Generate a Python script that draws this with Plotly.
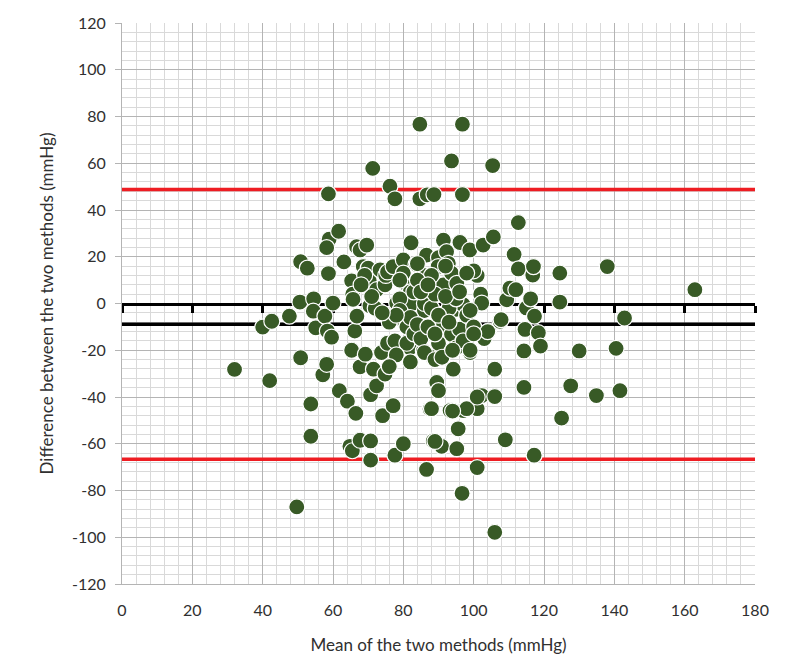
import plotly.graph_objects as go

# Bland-Altman data: mean of two methods (x) and difference (y), mmHg
mean_vals = [
    32, 40, 42, 42.6, 47.6, 49.7, 50.8, 50.8, 50.6, 52.7, 53.7, 53.7, 54.5, 54.4, 55.1,
    57.7, 57.1, 58.2, 58.4, 59.6, 58.7, 58.9, 58.2, 58.7, 60, 61.6, 61.8, 63.1, 64.1, 64.8,
    65.5, 65.3, 65.3, 65.6, 65.7, 66.2, 66.8, 66.5, 66.7, 67.7, 67.7, 67.7, 68.6, 69.6, 69.2,
    70, 70.3, 70.7, 70.7, 70.7, 71.3, 71.5, 70.5, 72.4, 72.4, 73, 73.4, 73.8, 74.1, 74.8,
    74.8, 75, 75.5, 75.5, 76.2, 77.6, 77.1, 77.1, 77.6, 77.6, 78.1, 80, 80, 80, 81.4,
    82, 81.9, 82.2, 82.8, 83.6, 84.7, 84.7, 85.7, 85.7, 86, 86.6, 86.8, 86.6, 87.6, 87.6,
    88.5, 88.5, 88.5, 88.7, 89.5, 90, 90, 89.9, 90.9, 91.4, 91.4, 91.4, 92.3, 92.8, 93.7,
    93.7, 93.7, 93.3, 94.2, 94.8, 95.2, 95.2, 95.6, 96.1, 96.8, 96.8, 96.7, 97, 97, 97,
    98.6, 98.9, 99, 101, 101, 101, 102, 102.3, 102.3, 102.7, 104.2, 105.6, 105.4, 106, 106,
    106, 107.5, 107.8, 109.4, 109, 110.3, 111.5, 112, 112.7, 112.7, 114.6, 114.3, 114.3, 115, 116.2,
    116.8, 117, 117.3, 117.2, 118.4, 119, 124.5, 124.5, 125, 127.6, 130, 134.9, 138, 140.5, 141.6,
    142.9, 162.9,
    80, 79, 79, 81, 81, 82, 83, 83, 84, 84, 85, 86, 86, 88, 88,
    89, 89, 90, 91, 92, 93, 95, 95, 96, 97, 98, 99, 100, 100, 103,
    104, 98, 88, 89, 94, 101, 76, 78, 79, 84, 87, 90, 92, 93, 96,
    98, 99, 100, 85, 87, 89, 94, 78, 82, 76, 72, 74, 71, 69, 68,
]
diff_vals = [
    -28.2, -10.1, -33, -7.6, -5.4, -87, 17.9, -23.2, 0.6, 15.1, -43, -56.8, 2, -3.3, -10.4,
    -5.4, -30.5, -26, -11.8, -14.4, 46.9, 27.5, 23.9, 12.8, 0.2, 30.9, -37.3, 17.8, -41.8, -61.1,
    -63, -20, 9.7, 4, 1.8, -11.8, -5.4, -47, 24.3, 22.9, -27.1, -58.5, 15.8, 25, -21.7,
    15.1, 9.7, -58.8, -67, -39, 57.8, -28.1, -1, 5.9, -35.2, -3, 14.4, -21, -48, 8,
    -30.2, 12, 13.5, -17, 50.2, 44.8, 15.8, -43.7, -16, -64.9, 0.2, -60, 18.6, -6.9, 7.3,
    5, -18.9, 26, 0.2, 16.8, 76.7, 44.8, 12, -20.3, -3, 20.7, 46.5, -71, 1.6, -45.1,
    -23.2, 5, -58.8, 46.6, -33.8, -37.3, 19.6, 15.8, -61.1, 27.1, 8, -9, 22.2, 17.2, 13,
    61, -13.2, -45.8, -28.1, -2.6, 8.6, -62.1, -53.6, 26.1, 76.7, 46.6, -81.2, -16, -0.5, -45.8,
    -9, 22.9, -21, -70.2, 12, -45, 4, 0.2, -39.4, 25, -11.8, 28.5, 59, -28.1, -39.8,
    -97.9, -7.6, -6.9, 1.6, -58.3, 6.6, 21, 5.9, 34.6, 14.8, -11.1, -20.3, -35.9, -1.9, 2,
    12.2, 15.8, -5.4, -64.9, -12.5, -18.2, 13, 0.6, -49, -35.2, -20.3, -39.4, 15.8, -19.2, -37.3,
    -6.2, 5.9,
    13, 2, -3, -10, -17, -6, 5, -13, 17, -9, -15, -21, 0, 12, -2,
    4, -24, -17, -23, 16, -2, 2, -19, -11, -16, -5, -20, -10, 14, -15,
    -12, -45, -45, -59, -46, -40, -8, -5, 10, 10, -10, -5, 3, -8, 5,
    13, -3, -13, 5, 8, -13, -20, -22, -25, -27, -2, -4, 3, 12, 8,
]

bias = -8.9
loa_upper = 48.8
loa_lower = -66.6

x_ticks = list(range(0, 181, 20))
y_ticks = list(range(-120, 121, 20))

font_family = "Lato, Carlito, Calibri, sans-serif"
tick_color = "#303030"

fig = go.Figure()

fig.add_trace(go.Scatter(
    x=mean_vals, y=diff_vals, mode="markers",
    marker=dict(size=16, color="#385a26", line=dict(color="white", width=1.2)),
    showlegend=False, hoverinfo="x+y",
))

# invisible trace to create the overlay axis that draws the y=0 axis line with ticks
fig.add_trace(go.Scatter(x=[x_ticks[0], x_ticks[-1]], y=[0, 0], xaxis="x2", yaxis="y",
                         mode="lines", line=dict(color="rgba(0,0,0,0)"), showlegend=False,
                         hoverinfo="skip"))

for yv, col in [(bias, "black"), (loa_upper, "#ee1d23"), (loa_lower, "#ee1d23")]:
    fig.add_shape(type="line", xref="x", yref="y", x0=x_ticks[0], x1=x_ticks[-1], y0=yv, y1=yv,
                  line=dict(color=col, width=3.5), layer="between")

fig.update_layout(
    width=793, height=663,
    margin=dict(l=122, r=38, t=23, b=75),
    paper_bgcolor="white", plot_bgcolor="white",
    font=dict(family=font_family, size=16, color=tick_color),
    xaxis=dict(
        range=[0, 180], tickvals=x_ticks, ticktext=[str(v) for v in x_ticks],
        showgrid=True, gridcolor="#b4b4b4", gridwidth=1,
        minor=dict(dtick=4, tick0=0, showgrid=True, gridcolor="#d9d9d9", gridwidth=1),
        showline=True, linecolor="#b4b4b4", linewidth=1, mirror=False,
        ticks="", ticklabelstandoff=12, zeroline=False,
        title=dict(text="Mean of the two methods (mmHg)", font=dict(size=17, color=tick_color), standoff=20),
        tickfont=dict(size=16, color=tick_color),
    ),
    xaxis2=dict(
        range=[0, 180], overlaying="x", anchor="free", position=0.5, side="bottom",
        tickvals=x_ticks, showticklabels=False, showgrid=False, zeroline=False,
        showline=True, linecolor="black", linewidth=3,
        ticks="outside", ticklen=7, tickwidth=3, tickcolor="black",
        layer="below traces",
    ),
    yaxis=dict(
        range=[-120, 120], tickvals=y_ticks, ticktext=[str(v) for v in y_ticks],
        showgrid=True, gridcolor="#b4b4b4", gridwidth=1,
        minor=dict(dtick=4, tick0=0, showgrid=True, gridcolor="#d9d9d9", gridwidth=1),
        showline=True, linecolor="#b4b4b4", linewidth=1,
        ticks="outside", ticklen=6, tickcolor="#b4b4b4", tickwidth=1,
        ticklabelstandoff=6, zeroline=False,
        title=dict(text="Difference between the two methods (mmHg)", font=dict(size=17, color=tick_color), standoff=14),
        tickfont=dict(size=16, color=tick_color),
    ),
)

fig.write_html("out.html")
